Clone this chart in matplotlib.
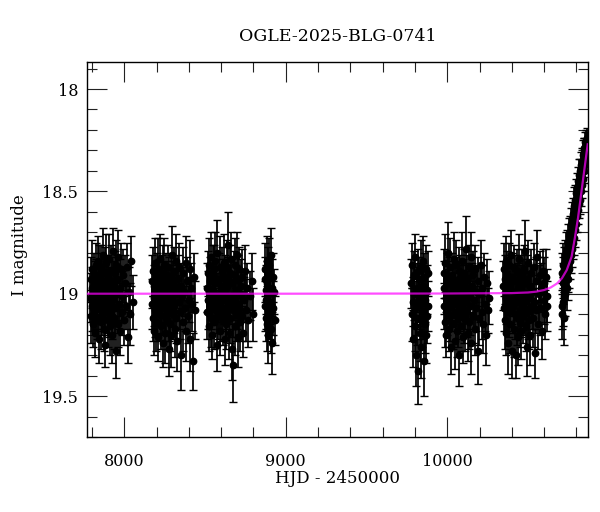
"""
plot.py - OGLE EWS light curve of OGLE-2025-BLG-0741.

I-band photometry per observing season with error bars,
plus the point-lens model curve (magenta) rising at the end.
"""

# ============================================================
# Section 1. Setup and Imports
# ============================================================
import matplotlib

matplotlib.use("Agg")
import matplotlib.pyplot as plt
from matplotlib.ticker import FuncFormatter, MultipleLocator

plt.rcParams["font.family"] = ["DejaVu Serif"]

# ============================================================
# Section 2. Data (HJD - 2450000, I magnitude, error), per season
# ============================================================

hjd_2017 = [7790, 7793, 7795, 7798, 7801, 7803, 7806, 7809, 7811, 7814,
            7817, 7819, 7822, 7825, 7827, 7830, 7833, 7835, 7838, 7841,
            7843, 7846, 7849, 7851, 7854, 7857, 7859, 7862, 7865, 7867,
            7870, 7873, 7875, 7878, 7881, 7883, 7886, 7889, 7891, 7894,
            7897, 7899, 7902, 7905, 7907, 7910, 7913, 7915, 7918, 7921,
            7924, 7927, 7930, 7933, 7936, 7939, 7942, 7945, 7948, 7951,
            7954, 7957, 7960, 7964, 7968, 7972, 7976, 7980, 7984, 7988,
            7993, 7998, 8003, 8008, 8014, 8020, 8027, 8035, 8044, 8052]
mag_2017 = [19.02, 18.93, 19.11, 18.97, 19.06, 18.88, 19.15, 19.01, 18.92, 19.08,
            18.99, 19.19, 18.86, 19.04, 18.95, 19.12, 19.00, 18.84, 19.07, 18.96,
            19.22, 18.91, 19.03, 18.98, 19.14, 18.87, 19.05, 18.94, 19.10, 18.81,
            19.01, 19.17, 18.97, 19.06, 18.90, 19.25, 19.00, 18.85, 19.09, 18.95,
            19.13, 18.92, 19.04, 18.83, 19.08, 18.98, 19.16, 19.02, 18.89, 19.11,
            18.94, 19.20, 18.79, 19.03, 18.96, 19.12, 18.90, 19.07, 19.28, 18.86,
            19.00, 18.93, 19.15, 18.82, 19.05, 18.97, 19.18, 18.88, 19.09, 19.01,
            18.91, 19.13, 18.95, 19.06, 18.87, 19.21, 18.99, 19.10, 18.84, 19.04]
err_2017 = [0.12, 0.11, 0.13, 0.10, 0.12, 0.14, 0.11, 0.13, 0.12, 0.10,
            0.15, 0.12, 0.11, 0.13, 0.12, 0.10, 0.14, 0.12, 0.11, 0.13,
            0.12, 0.15, 0.10, 0.12, 0.13, 0.11, 0.12, 0.14, 0.10, 0.13,
            0.12, 0.11, 0.15, 0.12, 0.13, 0.11, 0.12, 0.14, 0.10, 0.12,
            0.13, 0.11, 0.16, 0.12, 0.13, 0.11, 0.14, 0.12, 0.13, 0.11,
            0.12, 0.14, 0.11, 0.13, 0.12, 0.15, 0.11, 0.12, 0.13, 0.12,
            0.14, 0.12, 0.11, 0.13, 0.12, 0.14, 0.12, 0.13, 0.11, 0.12,
            0.13, 0.12, 0.14, 0.11, 0.12, 0.13, 0.12, 0.15, 0.12, 0.13]

hjd_2018 = [8170, 8173, 8176, 8178, 8181, 8184, 8187, 8189, 8192, 8195,
            8198, 8200, 8203, 8206, 8209, 8211, 8214, 8217, 8220, 8222,
            8225, 8228, 8231, 8233, 8236, 8239, 8242, 8244, 8247, 8250,
            8253, 8255, 8258, 8261, 8264, 8266, 8269, 8272, 8275, 8277,
            8280, 8283, 8286, 8288, 8291, 8294, 8297, 8300, 8303, 8306,
            8309, 8312, 8315, 8318, 8321, 8325, 8329, 8333, 8337, 8341,
            8345, 8349, 8353, 8357, 8361, 8365, 8370, 8375, 8380, 8385,
            8390, 8395, 8400, 8405, 8410, 8415, 8420, 8425, 8430, 8436]
mag_2018 = [19.05, 18.94, 19.12, 18.89, 19.02, 19.18, 18.96, 19.08, 18.85, 19.00,
            19.14, 18.92, 19.06, 18.98, 19.21, 18.88, 19.03, 18.95, 19.10, 18.83,
            19.01, 19.16, 18.93, 19.07, 18.97, 19.24, 18.90, 19.04, 18.86, 19.11,
            18.99, 19.19, 18.91, 19.05, 18.96, 19.13, 18.87, 19.02, 19.27, 18.94,
            19.08, 18.98, 19.15, 18.92, 19.20, 19.03, 18.81, 19.10, 18.95, 19.06,
            18.89, 19.17, 19.00, 18.84, 19.12, 18.97, 19.23, 18.93, 19.04, 18.87,
            19.09, 18.96, 19.30, 19.01, 18.90, 19.14, 18.99, 19.07, 18.85, 19.18,
            18.94, 19.11, 19.03, 18.88, 19.22, 18.97, 19.05, 19.33, 18.92, 19.08]
err_2018 = [0.12, 0.13, 0.11, 0.12, 0.14, 0.12, 0.10, 0.13, 0.12, 0.11,
            0.14, 0.12, 0.13, 0.10, 0.12, 0.15, 0.11, 0.12, 0.13, 0.12,
            0.14, 0.11, 0.12, 0.13, 0.10, 0.12, 0.14, 0.11, 0.13, 0.12,
            0.12, 0.15, 0.11, 0.13, 0.12, 0.14, 0.11, 0.12, 0.13, 0.12,
            0.15, 0.12, 0.13, 0.11, 0.16, 0.13, 0.14, 0.12, 0.11, 0.13,
            0.12, 0.14, 0.11, 0.13, 0.12, 0.11, 0.15, 0.12, 0.13, 0.12,
            0.13, 0.11, 0.17, 0.12, 0.13, 0.14, 0.12, 0.11, 0.13, 0.15,
            0.12, 0.13, 0.11, 0.14, 0.16, 0.12, 0.13, 0.14, 0.12, 0.14]

hjd_2019 = [8510, 8513, 8516, 8519, 8522, 8525, 8528, 8531, 8534, 8537,
            8540, 8543, 8546, 8549, 8552, 8555, 8558, 8561, 8564, 8567,
            8570, 8573, 8576, 8579, 8582, 8585, 8588, 8591, 8594, 8597,
            8600, 8603, 8606, 8609, 8612, 8615, 8618, 8621, 8624, 8627,
            8630, 8633, 8636, 8639, 8642, 8645, 8648, 8651, 8654, 8657,
            8660, 8663, 8666, 8669, 8672, 8675, 8678, 8681, 8684, 8687,
            8690, 8693, 8696, 8699, 8702, 8705, 8708, 8712, 8716, 8720,
            8724, 8728, 8732, 8737, 8742, 8747, 8753, 8760, 8768, 8778,
            8788, 8796]
mag_2019 = [18.97, 19.09, 18.90, 19.03, 19.16, 18.86, 19.01, 18.94, 19.12, 18.82,
            19.06, 18.98, 19.20, 18.91, 19.04, 18.88, 19.14, 19.00, 18.84, 19.08,
            18.95, 19.25, 18.80, 19.02, 19.11, 18.93, 19.05, 18.87, 19.18, 18.99,
            19.10, 18.89, 19.07, 18.96, 19.13, 18.85, 19.03, 19.22, 18.92, 19.09,
            18.97, 19.15, 18.87, 19.06, 18.94, 18.76, 19.19, 19.01, 18.90, 19.12,
            18.83, 19.04, 19.27, 18.95, 19.08, 19.35, 18.91, 19.02, 18.86, 19.16,
            18.98, 19.10, 18.81, 19.05, 19.21, 18.93, 19.07, 18.88, 19.14, 19.00,
            18.96, 19.11, 18.92, 19.19, 19.03, 18.89, 19.08, 18.97, 19.13, 19.01,
            18.94, 19.10]
err_2019 = [0.12, 0.13, 0.11, 0.14, 0.12, 0.13, 0.10, 0.12, 0.14, 0.12,
            0.11, 0.13, 0.12, 0.15, 0.11, 0.12, 0.13, 0.12, 0.14, 0.11,
            0.12, 0.13, 0.16, 0.12, 0.11, 0.13, 0.12, 0.15, 0.12, 0.11,
            0.13, 0.12, 0.11, 0.13, 0.12, 0.14, 0.12, 0.13, 0.11, 0.12,
            0.14, 0.12, 0.13, 0.11, 0.12, 0.16, 0.13, 0.12, 0.14, 0.12,
            0.13, 0.11, 0.15, 0.12, 0.13, 0.18, 0.12, 0.11, 0.13, 0.14,
            0.12, 0.13, 0.11, 0.12, 0.15, 0.12, 0.13, 0.11, 0.14, 0.12,
            0.13, 0.12, 0.14, 0.12, 0.11, 0.13, 0.15, 0.12, 0.13, 0.12,
            0.14, 0.13]

hjd_2020 = [8869, 8871, 8873, 8875, 8877, 8879, 8881, 8883, 8885, 8887,
            8889, 8891, 8894, 8897, 8900, 8903, 8906, 8909, 8912, 8915,
            8919, 8923, 8928, 8933]
mag_2020 = [18.93, 19.06, 18.88, 19.12, 18.98, 19.03, 18.84, 19.15, 18.95, 19.08,
            18.90, 19.20, 19.00, 18.86, 19.10, 19.04, 18.81, 19.17, 18.97, 19.24,
            18.92, 19.07, 18.99, 19.13]
err_2020 = [0.11, 0.12, 0.13, 0.11, 0.12, 0.14, 0.12, 0.13, 0.11, 0.12,
            0.13, 0.14, 0.12, 0.13, 0.12, 0.11, 0.13, 0.12, 0.14, 0.15,
            0.12, 0.13, 0.11, 0.12]

hjd_2022 = [9778, 9781, 9784, 9787, 9790, 9793, 9796, 9799, 9802, 9805,
            9808, 9811, 9814, 9817, 9820, 9823, 9826, 9829, 9832, 9835,
            9838, 9841, 9844, 9847, 9850, 9853, 9856, 9859, 9862, 9865,
            9868, 9871, 9874, 9877, 9880, 9882]
mag_2022 = [18.95, 19.10, 18.86, 19.04, 19.22, 18.91, 19.00, 19.16, 18.82, 19.07,
            19.30, 18.97, 19.12, 18.89, 19.38, 19.02, 18.93, 19.19, 19.05, 18.87,
            19.26, 19.00, 19.13, 18.96, 18.84, 19.09, 19.33, 18.92, 19.15, 19.03,
            18.88, 19.20, 18.98, 19.11, 18.90, 19.06]
err_2022 = [0.12, 0.13, 0.11, 0.12, 0.14, 0.12, 0.13, 0.12, 0.11, 0.13,
            0.15, 0.12, 0.13, 0.11, 0.16, 0.12, 0.11, 0.14, 0.12, 0.13,
            0.15, 0.12, 0.13, 0.11, 0.12, 0.13, 0.17, 0.12, 0.14, 0.11,
            0.12, 0.14, 0.12, 0.13, 0.11, 0.12]

hjd_2023 = [9977, 9980, 9983, 9986, 9989, 9992, 9995, 9998, 10001, 10004,
            10007, 10010, 10013, 10016, 10019, 10022, 10025, 10028, 10031, 10034,
            10037, 10040, 10043, 10046, 10049, 10052, 10055, 10058, 10061, 10064,
            10067, 10070, 10073, 10076, 10079, 10082, 10085, 10088, 10091, 10094,
            10097, 10100, 10103, 10106, 10109, 10112, 10115, 10118, 10121, 10124,
            10127, 10130, 10133, 10136, 10139, 10142, 10146, 10150, 10154, 10158,
            10162, 10166, 10170, 10174, 10178, 10183, 10188, 10193, 10198, 10203,
            10208, 10213, 10218, 10223, 10229, 10235, 10241, 10247, 10252, 10256]
mag_2023 = [18.90, 19.06, 18.97, 19.14, 18.85, 19.02, 19.20, 18.93, 19.08, 18.80,
            19.00, 19.17, 18.95, 19.11, 18.87, 19.04, 19.26, 18.91, 19.06, 18.98,
            19.15, 18.83, 19.01, 19.23, 18.94, 19.09, 18.86, 19.03, 19.18, 18.96,
            19.12, 18.89, 19.05, 19.30, 18.92, 19.07, 18.99, 19.16, 18.84, 19.02,
            19.21, 18.95, 19.10, 18.90, 19.04, 19.13, 18.97, 18.78, 19.08, 18.93,
            19.19, 19.01, 18.87, 19.14, 18.98, 19.06, 18.82, 19.24, 18.96, 19.11,
            18.91, 19.03, 19.17, 18.88, 19.07, 18.99, 19.28, 18.94, 19.12, 19.00,
            18.86, 19.09, 18.97, 19.15, 18.92, 19.05, 19.20, 18.95, 19.08, 19.02]
err_2023 = [0.12, 0.11, 0.13, 0.12, 0.14, 0.12, 0.11, 0.13, 0.12, 0.15,
            0.12, 0.11, 0.13, 0.12, 0.14, 0.12, 0.13, 0.11, 0.12, 0.14,
            0.12, 0.13, 0.11, 0.14, 0.12, 0.13, 0.12, 0.11, 0.13, 0.12,
            0.14, 0.12, 0.13, 0.15, 0.11, 0.12, 0.13, 0.12, 0.14, 0.11,
            0.13, 0.12, 0.14, 0.12, 0.13, 0.15, 0.12, 0.16, 0.13, 0.12,
            0.14, 0.12, 0.11, 0.13, 0.12, 0.14, 0.12, 0.15, 0.11, 0.13,
            0.12, 0.14, 0.13, 0.12, 0.11, 0.13, 0.16, 0.12, 0.13, 0.14,
            0.12, 0.13, 0.11, 0.14, 0.12, 0.13, 0.15, 0.12, 0.11, 0.13]

hjd_2024 = [10346, 10349, 10352, 10355, 10358, 10361, 10364, 10367, 10370, 10373,
            10376, 10379, 10382, 10385, 10388, 10391, 10394, 10397, 10400, 10403,
            10406, 10409, 10412, 10415, 10418, 10421, 10424, 10427, 10430, 10433,
            10436, 10439, 10442, 10445, 10448, 10451, 10454, 10457, 10460, 10463,
            10466, 10469, 10472, 10475, 10478, 10481, 10484, 10487, 10490, 10493,
            10496, 10499, 10502, 10505, 10508, 10511, 10515, 10519, 10523, 10527,
            10531, 10535, 10539, 10543, 10547, 10552, 10557, 10562, 10567, 10572,
            10577, 10582, 10587, 10592, 10597, 10602, 10607, 10611, 10615, 10618]
mag_2024 = [18.96, 18.88, 19.07, 18.93, 19.13, 18.84, 19.02, 19.19, 18.91, 19.05,
            18.98, 19.24, 18.86, 19.09, 18.95, 19.15, 18.81, 19.03, 19.28, 18.92,
            19.06, 18.99, 19.17, 18.87, 19.10, 18.94, 19.30, 19.01, 18.89, 19.12,
            18.97, 19.21, 18.83, 19.04, 19.14, 18.92, 19.08, 18.98, 19.18, 18.90,
            19.05, 19.11, 18.95, 19.03, 18.88, 19.07, 18.79, 19.16, 19.00, 19.26,
            18.93, 19.09, 18.85, 19.13, 19.02, 18.96, 19.20, 18.90, 19.06, 18.99,
            19.12, 18.87, 19.04, 19.29, 18.94, 19.08, 18.82, 19.15, 19.00, 18.91,
            19.07, 18.97, 19.18, 18.89, 19.03, 18.95, 19.10, 18.92, 19.06, 19.01]
err_2024 = [0.12, 0.13, 0.11, 0.12, 0.14, 0.12, 0.13, 0.11, 0.12, 0.13,
            0.12, 0.15, 0.11, 0.12, 0.13, 0.14, 0.12, 0.11, 0.13, 0.12,
            0.13, 0.12, 0.14, 0.11, 0.12, 0.13, 0.11, 0.12, 0.11, 0.13,
            0.12, 0.14, 0.12, 0.13, 0.12, 0.11, 0.13, 0.12, 0.14, 0.12,
            0.11, 0.13, 0.12, 0.14, 0.12, 0.13, 0.15, 0.12, 0.11, 0.14,
            0.12, 0.13, 0.11, 0.14, 0.12, 0.13, 0.15, 0.12, 0.11, 0.13,
            0.14, 0.12, 0.13, 0.12, 0.12, 0.11, 0.13, 0.12, 0.14, 0.12,
            0.13, 0.12, 0.14, 0.11, 0.12, 0.13, 0.12, 0.14, 0.12, 0.13]

hjd_2025 = [10708, 10710, 10712, 10714, 10716, 10718, 10720, 10722, 10724, 10726,
            10728, 10730, 10733, 10736, 10739, 10742, 10745, 10748, 10751, 10754,
            10757, 10760, 10763, 10766, 10769, 10772, 10775, 10778, 10781, 10784,
            10787, 10790, 10793, 10796, 10799, 10802, 10805, 10808, 10811, 10814,
            10817, 10820, 10823, 10826, 10829, 10832, 10835, 10838, 10841, 10844,
            10847, 10850, 10853, 10856, 10858, 10860, 10862, 10864, 10865, 10866]
mag_2025 = [19.06, 18.90, 19.10, 18.95, 18.86, 19.04, 18.92, 19.12, 18.88, 19.01,
            18.84, 19.00, 18.90, 18.80, 18.97, 18.78, 18.93, 18.75, 18.89, 18.72,
            18.88, 18.70, 18.84, 18.66, 18.81, 18.63, 18.78, 18.61, 18.75, 18.57,
            18.73, 18.54, 18.69, 18.51, 18.66, 18.48, 18.62, 18.45, 18.59, 18.42,
            18.56, 18.40, 18.54, 18.37, 18.50, 18.35, 18.47, 18.32, 18.44, 18.30,
            18.40, 18.29, 18.37, 18.26, 18.35, 18.25, 18.32, 18.24, 18.30, 18.27]
err_2025 = [0.11, 0.10, 0.12, 0.10, 0.11, 0.12, 0.10, 0.13, 0.11, 0.10,
            0.10, 0.11, 0.09, 0.10, 0.11, 0.09, 0.10, 0.09, 0.10, 0.09,
            0.09, 0.08, 0.09, 0.08, 0.09, 0.08, 0.09, 0.08, 0.08, 0.09,
            0.08, 0.07, 0.08, 0.07, 0.08, 0.07, 0.08, 0.07, 0.07, 0.08,
            0.07, 0.06, 0.07, 0.06, 0.07, 0.06, 0.06, 0.07, 0.06, 0.06,
            0.06, 0.05, 0.06, 0.05, 0.06, 0.05, 0.06, 0.05, 0.05, 0.06]

# Model light curve
model_hjd = [7771, 9000, 10000, 10400, 10500, 10550, 10600, 10640, 10680,
             10710, 10740, 10770, 10790, 10810, 10825, 10840, 10855, 10870]
model_mag = [19.000, 19.000, 18.999, 18.997, 18.994, 18.990, 18.982, 18.970,
             18.950, 18.925, 18.885, 18.820, 18.730, 18.630, 18.540, 18.450,
             18.360, 18.270]

seasons = [
    (hjd_2017, mag_2017, err_2017),
    (hjd_2018, mag_2018, err_2018),
    (hjd_2019, mag_2019, err_2019),
    (hjd_2020, mag_2020, err_2020),
    (hjd_2022, mag_2022, err_2022),
    (hjd_2023, mag_2023, err_2023),
    (hjd_2024, mag_2024, err_2024),
    (hjd_2025, mag_2025, err_2025),
]

# ============================================================
# Section 3. Figure and Axes
# ============================================================
fig = plt.figure(figsize=(6.0, 5.12), dpi=100)
ax = fig.add_axes([0.1455, 0.1465, 0.834, 0.7324])

for hjd, mag, err in seasons:
    ax.errorbar(hjd, mag, yerr=err, fmt="o", color="black", ecolor="black",
                markersize=4.6, elinewidth=1.25, capsize=2.8, capthick=1.0,
                zorder=2)

ax.plot(model_hjd, model_mag, color="#ff00ff", linewidth=1.6, alpha=0.7,
        zorder=3)

ax.set_xlim(7771, 10870)
ax.set_ylim(19.70, 17.868)

# Ticks: inward on all four sides
ax.xaxis.set_major_locator(MultipleLocator(1000))
ax.xaxis.set_minor_locator(MultipleLocator(200))
ax.yaxis.set_major_locator(MultipleLocator(0.5))
ax.yaxis.set_minor_locator(MultipleLocator(0.1))
ax.yaxis.set_major_formatter(FuncFormatter(lambda v, p: f"{v:g}"))

ax.tick_params(which="both", direction="in", top=True, right=True,
               width=0.8, color="#222222")
ax.tick_params(which="major", length=14.4)
ax.tick_params(which="minor", length=7.2)
ax.tick_params(axis="x", which="major", labelsize=11.5, pad=11.5)
ax.tick_params(axis="y", which="major", labelsize=11.5, pad=6.5)

for spine in ax.spines.values():
    spine.set_linewidth(1.0)

# ============================================================
# Section 4. Title and Axis Labels
# ============================================================
x_mid = 0.1455 + 0.834 / 2
fig.text(x_mid, 1 - 40.7 / 512, "OGLE-2025-BLG-0741", fontsize=12.5,
         ha="center", va="baseline")
fig.text(x_mid, 1 - 483 / 512, "HJD - 2450000", fontsize=12,
         ha="center", va="baseline")
fig.text(20 / 600, 1 - 245 / 512, "I magnitude", fontsize=12,
         rotation=90, ha="center", va="center")

fig.savefig("out.png", dpi=100)
